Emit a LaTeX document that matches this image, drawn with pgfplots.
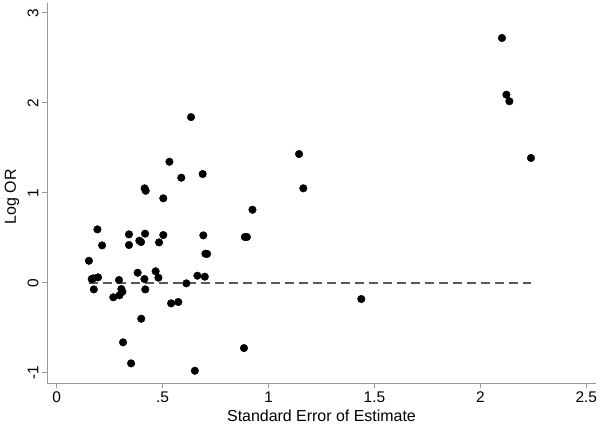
\documentclass[border=0pt]{standalone}
\usepackage{pgfplots}
\pgfplotsset{compat=1.18}
\usepackage{fontspec}
\setmainfont{Liberation Sans}
\pgfplotstableread{
x y
0.532 1.344
0.588 1.167
0.689 1.208
0.415 1.049
0.420 1.022
0.503 0.938
0.192 0.593
0.341 0.537
0.417 0.545
0.503 0.530
0.692 0.526
0.214 0.415
0.341 0.419
0.390 0.467
0.398 0.452
0.483 0.448
0.702 0.322
0.710 0.320
0.152 0.244
0.382 0.111
0.467 0.127
0.480 0.056
0.414 0.041
0.165 0.041
0.173 0.049
0.195 0.060
0.294 0.030
0.664 0.078
0.699 0.067
0.612 -0.007
0.175 -0.074
0.305 -0.070
0.310 -0.100
0.296 -0.140
0.267 -0.162
0.418 -0.074
0.540 -0.229
0.574 -0.214
0.399 -0.400
0.313 -0.662
0.351 -0.896
0.652 -0.978
0.634 1.840
1.144 1.430
1.164 1.049
0.924 0.811
0.888 0.508
0.898 0.508
1.438 -0.181
0.884 -0.726
2.102 2.719
2.123 2.089
2.137 2.016
2.239 1.386
}\datatable
\begin{document}
\begin{tikzpicture}
\path[use as bounding box] (-47bp,-43bp) rectangle (554bp,383bp);
\begin{axis}[
  at={(0,0)}, anchor=south west,
  scale only axis, width=549bp, height=380bp,
  xmin=-0.046, xmax=2.546, ymin=-1.114, ymax=3.108,
  axis lines*=left,
  axis line style={black!40, line width=0.8bp},
  tick style={black!40, line width=0.8bp},
  tick align=outside, major tick length=5bp,
  xtick={0,0.5,1,1.5,2,2.5}, xticklabels={0,.5,1,1.5,2,2.5},
  ytick={-1,0,1,2,3}, yticklabels={-1,0,1,2,3},
  ticklabel style={font=\fontsize{15.5}{18}\selectfont, text=black},
  yticklabel style={rotate=90, anchor=south},
  xlabel={Standard Error of Estimate},
  ylabel={Log OR},
  label style={font=\fontsize{16}{19}\selectfont},
  xlabel style={at={(axis description cs:0.5,0)}, anchor=base, yshift=-38bp},
  ylabel style={at={(axis description cs:-0.0638,0.49)}, anchor=center},
  clip=false,
]
\addplot[black!65, dash pattern=on 9.5bp off 4.5bp, line width=1.7bp] coordinates {(0.152,0) (2.239,0)};
\addplot[only marks, mark=*, mark size=3.8bp, black] table[x=x,y=y] {\datatable};
\end{axis}
\end{tikzpicture}
\end{document}
